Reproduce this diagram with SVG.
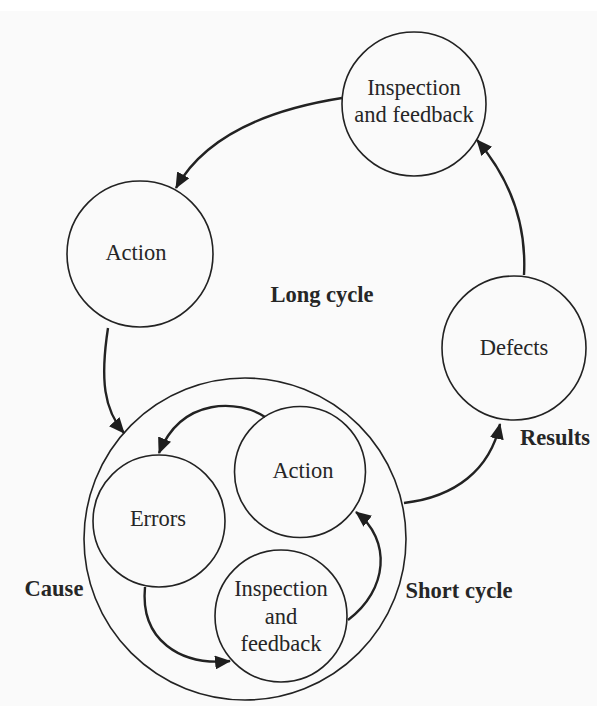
<svg xmlns="http://www.w3.org/2000/svg" width="597" height="706" viewBox="0 0 597 706">
  <style>
    .node { fill: none; stroke: #222; stroke-width: 1.6; }
    .lbl { font-family: "Liberation Serif", "Times New Roman", serif; font-size: 22.5px; fill: #262626; text-anchor: middle; }
    .bold { font-weight: bold; }
    .edge { fill: none; stroke: #222; stroke-width: 2.4; marker-end: url(#head); }
  </style>
  <defs>
    <marker id="head" markerUnits="userSpaceOnUse" markerWidth="16" markerHeight="14" viewBox="0 0 16 14" refX="15" refY="7" orient="auto">
      <path d="M0,0 L16,7 L0,14 Z" fill="#1e1e1e"/>
    </marker>
  </defs>
  <rect x="0" y="0" width="597" height="706" fill="#ffffff"/>
  <rect x="0" y="11" width="597" height="695" fill="#fafafa"/>

  <!-- long cycle -->
  <g id="inspection-long">
    <circle class="node" cx="414" cy="104" r="72"/>
    <text class="lbl" x="414" y="95">Inspection</text>
    <text class="lbl" x="414" y="122">and feedback</text>
  </g>
  <g id="action-long">
    <circle class="node" cx="140" cy="254" r="73"/>
    <text class="lbl" x="136" y="260">Action</text>
  </g>
  <g id="defects">
    <circle class="node" cx="514" cy="348" r="72"/>
    <text class="lbl" x="514" y="355">Defects</text>
  </g>

  <!-- cause: short cycle enclosure -->
  <g id="cause">
    <circle class="node" cx="245" cy="539" r="161"/>
  </g>
  <g id="errors">
    <circle class="node" cx="159" cy="521" r="66"/>
    <text class="lbl" x="158" y="526">Errors</text>
  </g>
  <g id="action-short">
    <circle class="node" cx="300" cy="472" r="65.5"/>
    <text class="lbl" x="303" y="478">Action</text>
  </g>
  <g id="inspection-short">
    <circle class="node" cx="281" cy="616" r="66"/>
    <text class="lbl" x="281" y="596">Inspection</text>
    <text class="lbl" x="281" y="624">and</text>
    <text class="lbl" x="281" y="651">feedback</text>
  </g>

  <!-- free labels -->
  <g id="labels">
    <text class="lbl bold" x="322" y="302">Long cycle</text>
    <text class="lbl bold" x="555" y="445">Results</text>
    <text class="lbl bold" x="54" y="596">Cause</text>
    <text class="lbl bold" x="459" y="598">Short cycle</text>
  </g>

  <g id="connectors">
    <path class="edge" d="M342,98 Q215,118 176,188"/>
    <path class="edge" d="M524,275 Q528,200 477,140"/>
    <path class="edge" d="M108,328 C100,380 104,410 124,433"/>
    <path class="edge" d="M404,503 C455,497 490,470 500,424"/>
    <path class="edge" d="M265,417 C240,400 182,396 159,453"/>
    <path class="edge" d="M145,587 C140,640 180,666 230,661"/>
    <path class="edge" d="M348,620 C388,590 392,540 356,512"/>
  </g>
</svg>
